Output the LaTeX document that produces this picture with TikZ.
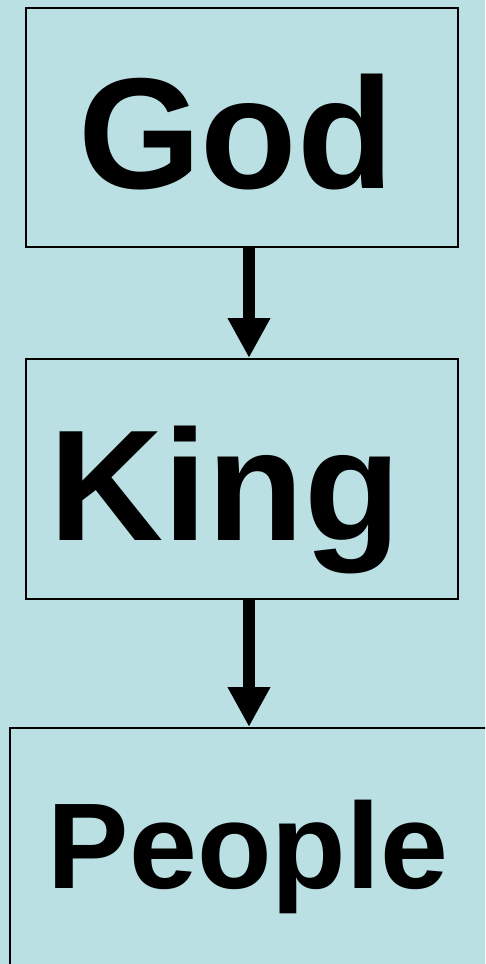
\documentclass[tikz,border=0pt]{standalone}
\usepackage{fontspec}
\setmainfont{Liberation Sans}
\usetikzlibrary{arrows.meta}
\definecolor{bgcol}{RGB}{186,224,227}
\tikzset{
  box/.style={draw=black, line width=2pt, fill=bgcol, rectangle, inner sep=0pt, anchor=north west},
  word/.style={inner sep=0pt, anchor=base, font=\bfseries},
  link/.style={line width=12pt, -{Triangle[length=40pt,width=40pt]}}
}
\begin{document}
\begin{tikzpicture}[x=1pt,y=-1pt]
\clip (0,0) rectangle (485,964);
\fill[bgcol] (0,0) rectangle (485,964);
\node[box, minimum width=432pt, minimum height=239pt] (god) at (25,7) {};
\node[box, minimum width=432pt, minimum height=240pt] (king) at (25,358) {};
\node[box, minimum width=500pt, minimum height=260pt] (people) at (9,727) {};
\node[word, font=\bfseries\fontsize{158}{158}\selectfont] (godtxt) at (236,188) {God};
\node[word, font=\bfseries\fontsize{158}{158}\selectfont] (kingtxt) at (225,540) {King};
\node[word, font=\bfseries\fontsize{122}{122}\selectfont] (peopletxt) at (248,888) {People};
\coordinate (ptop) at (249,727);
\draw[link] (god.south -| ptop) -- (king.north -| ptop);
\draw[link] (king.south -| ptop) -- (ptop);
\end{tikzpicture}
\end{document}
